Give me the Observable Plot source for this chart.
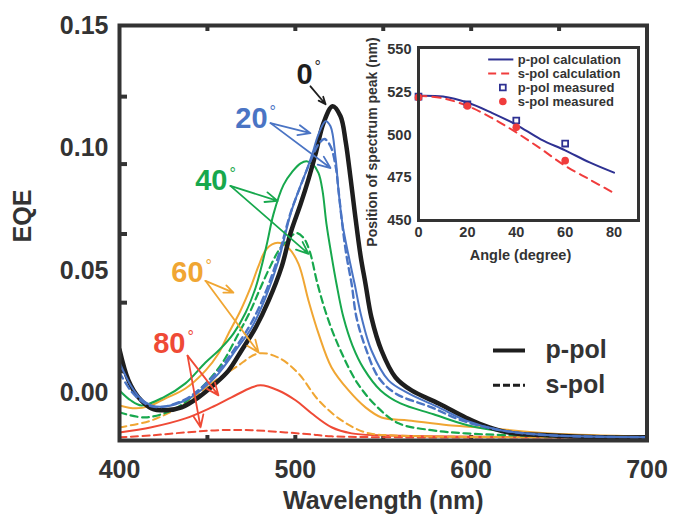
<!DOCTYPE html>
<html>
<head>
<meta charset="utf-8">
<script src="https://cdn.jsdelivr.net/npm/d3@7"></script>
<script src="https://cdn.jsdelivr.net/npm/@observablehq/plot@0.6"></script>
<style>
  html, body { margin: 0; padding: 0; background: white; }
  #wrap { position: relative; width: 678px; height: 518px; }
  #inset { position: absolute; left: 350px; top: 30px; }
</style>
</head>
<body>
<div id="wrap"><div id="main"></div><div id="inset"></div></div>
<script>
// ---------- main chart data: [wavelength (nm), EQE] ----------
const p0 = [[400,0.0179],[405.1,0.0053],[410.8,-0.0016],[418.2,-0.0061],[426.2,-0.0069],[435.3,-0.0057],[444.9,-0.0016],[454.6,0.0041],[462.0,0.0093],[469.4,0.0175],[477.4,0.0268],[484.8,0.0378],[492.2,0.0516],[497.3,0.0654],[503.0,0.0772],[507.5,0.0874],[511.5,0.0976],[516.0,0.1102],[521.2,0.1171],[525.7,0.1130],[528.6,0.1028],[531.4,0.0878],[533.7,0.0744],[537.1,0.0561],[539.9,0.0447],[543.3,0.0309],[549.0,0.0175],[557.0,0.0065],[566.1,0.0012],[581.5,-0.0041],[596.8,-0.0098],[604.2,-0.0122],[620.7,-0.0159],[643.5,-0.0171],[673.6,-0.0179],[700,-0.0179]];
const p20 = [[400,0.0126],[406.3,0.0033],[411.9,-0.0020],[418.2,-0.0049],[426.2,-0.0053],[437.5,-0.0028],[446.1,0.0012],[456.3,0.0081],[466.0,0.0175],[475.1,0.0268],[483.0,0.0390],[490.4,0.0541],[497.3,0.0732],[501.8,0.0825],[506.9,0.0919],[509.8,0.0980],[513.2,0.1057],[517.2,0.1110],[520.0,0.1089],[522.9,0.0959],[524.6,0.0825],[526.8,0.0691],[530.3,0.0561],[533.7,0.0447],[537.7,0.0309],[543.3,0.0175],[553.0,0.0053],[564.4,0.0000],[581.5,-0.0057],[596.8,-0.0110],[616.7,-0.0150],[645.2,-0.0171],[700,-0.0179]];
const s20 = [[400,0.0085],[406.3,0.0012],[411.9,-0.0028],[418.2,-0.0053],[426.2,-0.0053],[437.5,-0.0024],[446.1,0.0020],[456.3,0.0093],[466.0,0.0187],[475.1,0.0289],[483.0,0.0411],[490.4,0.0561],[497.3,0.0736],[503.0,0.0846],[508.6,0.0947],[513.2,0.1016],[516.6,0.1037],[520.0,0.1008],[522.9,0.0927],[524.6,0.0825],[526.8,0.0683],[529.1,0.0561],[532.0,0.0447],[534.8,0.0309],[539.9,0.0187],[547.3,0.0065],[557.0,0.0000],[577.5,-0.0057],[594.5,-0.0110],[616.7,-0.0150],[645.2,-0.0171],[700,-0.0179]];
const p40 = [[400,0.0012],[406.3,-0.0028],[412.5,-0.0049],[425.0,-0.0016],[437.5,0.0041],[448.9,0.0126],[457.5,0.0183],[464.8,0.0244],[471.7,0.0329],[477.4,0.0431],[481.3,0.0533],[484.2,0.0622],[487.6,0.0732],[493.3,0.0850],[498.4,0.0905],[503.0,0.0938],[506.4,0.0947],[509.8,0.0935],[513.2,0.0898],[515.5,0.0825],[517.7,0.0691],[520.6,0.0561],[523.4,0.0447],[527.4,0.0309],[532.5,0.0195],[538.8,0.0102],[548.5,0.0012],[559.8,-0.0041],[578.6,-0.0085],[598.0,-0.0130],[622.4,-0.0159],[645.2,-0.0171],[700,-0.0179]];
const s40 = [[400,-0.0077],[414.8,-0.0098],[431.9,-0.0061],[446.1,0.0020],[457.5,0.0114],[467.7,0.0244],[474.5,0.0337],[480.2,0.0431],[485.9,0.0520],[490.4,0.0581],[495.0,0.0622],[500.7,0.0654],[504.7,0.0634],[508.1,0.0581],[512.6,0.0447],[518.3,0.0309],[525.7,0.0175],[535.4,0.0041],[546.8,-0.0057],[558.7,-0.0122],[577.5,-0.0150],[596.8,-0.0163],[645.2,-0.0175],[700,-0.0179]];
const p60 = [[400,-0.0049],[409.1,-0.0061],[416.5,-0.0053],[426.2,-0.0020],[437.5,0.0020],[448.9,0.0093],[456.3,0.0163],[462.0,0.0244],[468.8,0.0337],[474.5,0.0431],[479.1,0.0520],[483.6,0.0589],[489.9,0.0614],[496.1,0.0593],[501.8,0.0528],[507.5,0.0378],[513.2,0.0244],[520.6,0.0106],[530.3,0.0012],[539.9,-0.0057],[549.0,-0.0098],[564.4,-0.0110],[587.1,-0.0130],[604.2,-0.0138],[645.2,-0.0163],[700,-0.0175]];
const s60 = [[400,-0.0138],[418.2,-0.0110],[437.5,-0.0041],[452.3,0.0041],[466.0,0.0106],[479.1,0.0163],[490.4,0.0146],[501.8,0.0081],[513.2,-0.0028],[526.3,-0.0110],[539.9,-0.0159],[554.7,-0.0171],[700,-0.0179]];
const p80 = [[400,-0.0159],[418.2,-0.0138],[437.5,-0.0102],[452.3,-0.0057],[463.7,-0.0016],[475.1,0.0024],[480.2,0.0033],[490.4,0.0012],[500.1,-0.0028],[509.2,-0.0081],[520.6,-0.0138],[532.0,-0.0163],[549.0,-0.0171],[700,-0.0179]];
const s80 = [[400,-0.0179],[418.2,-0.0171],[437.5,-0.0159],[456.3,-0.0150],[475.1,-0.0150],[494.4,-0.0159],[508.6,-0.0167],[520.6,-0.0175],[700,-0.0179]];

const xTickLabels = [400, 500, 600, 700];
const xTickMarks = [450, 500, 550, 600, 650];
const yTickLabels = [0.00, 0.05, 0.10, 0.15];
const yTickMarks = [0.121, 0.0935, 0.065, 0.037, 0.009];

// angle annotations (data coordinates): label anchor + arrow tail + arrow heads
const angleLabels = ["0", "20", "40", "60", "80"];
const angleColors = ["#1e1e1e", "#4a74c4", "#17a84d", "#f0a633", "#ef4a36"];
const labelX = [509.8, 484.2, 461.4, 447.8, 437.5];
const labelY = [0.1301, 0.1118, 0.0866, 0.0492, 0.0203];
const arrowTails = [[508.6,0.1252],[485.9,0.1102],[463.1,0.0846],[448.9,0.0459],[438.7,0.0154]];
const arrowHeads = [
  [[517.2,0.1179]],
  [[508.6,0.1061],[520.0,0.0919]],
  [[489.9,0.0785],[507.5,0.0569]],
  [[464.8,0.0411],[479.1,0.0167]],
  [[456.3,-0.0008],[446.1,-0.0138]]
];

// polarization legend
const legendNames = ["p-pol", "s-pol"];
const legendY = [0.0175, 0.0033];
const legendX = [612.7, 630.9, 642.3];

// ---------- inset data ----------
const angleCalc = [0, 10, 20, 30, 40, 50, 60, 70, 80];
const pCalc = [523, 522.5, 519, 513, 506, 497.5, 491, 484, 478];
const sCalc = [523, 521.5, 517, 510, 501.5, 492, 482, 474, 466];
const angleMeas = [0, 20, 40, 60];
const pMeas = [522.5, 518, 508.5, 495];
const sMeas = [522, 517, 504.5, 485];
const insetXTicks = [0, 20, 40, 60, 80];
const insetYTicks = [450, 475, 500, 525, 550];
const insetLegend = ["p-pol calculation", "s-pol calculation", "p-pol measured", "s-pol measured"];
const insetLegendY = [544.2, 536.0, 527.8, 519.6];
const insetLegendX = [28.7, 39.0, 34.5, 40.6];

// ---------- build main chart ----------
const FONT = "Liberation Sans, Arial, Helvetica, sans-serif";
const ink = "#333";
const X = d => d[0], Y = d => d[1];
const solid = (data, color, w) => Plot.line(data, {x: X, y: Y, stroke: color, strokeWidth: w, curve: "catmull-rom", clip: true});
const dashed = (data, color, w) => Plot.line(data, {x: X, y: Y, stroke: color, strokeWidth: w, strokeDasharray: "7,4.5", curve: "catmull-rom", clip: true});

const arrowRows = [];
arrowHeads.forEach((heads, i) => heads.forEach(h => arrowRows.push({x1: arrowTails[i][0], y1: arrowTails[i][1], x2: h[0], y2: h[1], c: angleColors[i]})));
const labelRows = angleLabels.map((t, i) => ({t, x: labelX[i], y: labelY[i], c: angleColors[i]}));

const main = Plot.plot({
  width: 678, height: 518,
  marginLeft: 119, marginRight: 31.5, marginTop: 25, marginBottom: 78,
  x: {domain: [400, 700]},
  y: {domain: [-0.0192, 0.15]},
  style: {fontFamily: FONT, background: "white", color: ink, overflow: "visible"},
  marks: [
    Plot.axisX({ticks: xTickLabels, tickSize: 0, tickPadding: 20, fontSize: 25, fontWeight: "bold", label: null, anchor: "bottom"}),
    Plot.axisY({ticks: yTickLabels, tickFormat: d3.format(".2f"), tickSize: 0, tickPadding: 11, fontSize: 25, fontWeight: "bold", label: null, anchor: "left"}),
    Plot.axisX({ticks: xTickMarks, tickSize: 5, dy: -5, text: null, label: null, anchor: "bottom", strokeWidth: 4, stroke: ink}),
    Plot.axisX({ticks: xTickMarks, tickSize: 5, dy: 5, text: null, label: null, anchor: "top", strokeWidth: 4, stroke: ink}),
    Plot.axisY({ticks: yTickMarks, tickSize: 8, dx: 8, text: null, label: null, anchor: "left", strokeWidth: 4, stroke: ink}),
    Plot.text(["EQE"], {frameAnchor: "left", textAnchor: "middle", lineAnchor: "middle", dx: -97, dy: -17, rotate: -90, fontSize: 25, fontWeight: "bold", fill: ink}),
    Plot.text(["Wavelength (nm)"], {frameAnchor: "bottom", textAnchor: "middle", lineAnchor: "middle", dy: 60, fontSize: 25, fontWeight: "bold", fill: ink}),
    // curves
    dashed(s80, angleColors[4], 2),
    solid(p80, angleColors[4], 2),
    dashed(s60, angleColors[3], 2),
    solid(p60, angleColors[3], 2),
    dashed(s40, angleColors[2], 2.2),
    solid(p40, angleColors[2], 2),
    solid(p0, "#1e1e1e", 4.5),
    dashed(s20, angleColors[1], 2.4),
    solid(p20, angleColors[1], 2),
    Plot.frame({stroke: ink, strokeWidth: 4}),
    // annotations
    Plot.arrow(arrowRows, {x1: "x1", y1: "y1", x2: "x2", y2: "y2", stroke: "c", strokeWidth: 1.8, headLength: 11, headAngle: 45}),
    Plot.text(labelRows, {x: "x", y: "y", text: "t", fill: "c", textAnchor: "end", fontSize: 29, fontWeight: "bold"}),
    Plot.text(labelRows, {x: "x", y: "y", text: () => "°", fill: "c", textAnchor: "start", dx: 2, dy: -7, fontSize: 16}),
    // legend
    Plot.ruleY([legendY[0]], {x1: legendX[0], x2: legendX[1], stroke: "#1e1e1e", strokeWidth: 4}),
    Plot.ruleY([legendY[1]], {x1: legendX[0], x2: legendX[1], stroke: "#1e1e1e", strokeWidth: 3, strokeDasharray: "7,3"}),
    Plot.text(legendNames, {x: legendX[2], y: (d, i) => legendY[i], textAnchor: "start", fontSize: 25, fontWeight: "bold", fill: ink})
  ]
});
document.getElementById("main").append(main);

// ---------- inset ----------
const navy = "#2e3192", red = "#f03c3c";
const calcP = angleCalc.map((a, i) => ({a, v: pCalc[i]}));
const calcS = angleCalc.map((a, i) => ({a, v: sCalc[i]}));
const measP = angleMeas.map((a, i) => ({a, v: pMeas[i]}));
const measS = angleMeas.map((a, i) => ({a, v: sMeas[i]}));

const inset = Plot.plot({
  width: 295, height: 240,
  marginLeft: 68, marginRight: 7, marginTop: 17, marginBottom: 50,
  x: {domain: [0, 90]},
  y: {domain: [450, 551.2]},
  style: {fontFamily: FONT, background: "transparent", color: ink, overflow: "visible"},
  marks: [
    Plot.axisX({ticks: insetXTicks, tickSize: 0, tickPadding: 6, fontSize: 14.5, fontWeight: "bold", label: null}),
    Plot.axisY({ticks: insetYTicks, tickSize: 0, tickPadding: 7, fontSize: 14.5, fontWeight: "bold", label: null}),
    Plot.text(["Angle (degree)"], {frameAnchor: "bottom", textAnchor: "middle", lineAnchor: "middle", dx: -8, dy: 35, fontSize: 14.5, fontWeight: "bold", fill: ink}),
    Plot.text(["Position of spectrum peak (nm)"], {frameAnchor: "left", textAnchor: "middle", lineAnchor: "middle", dx: -46, dy: 8, rotate: -90, fontSize: 14, fontWeight: "bold", fill: ink}),
    Plot.line(calcP, {x: "a", y: "v", stroke: navy, strokeWidth: 2, curve: "catmull-rom"}),
    Plot.line(calcS, {x: "a", y: "v", stroke: red, strokeWidth: 2, strokeDasharray: "8,6", curve: "catmull-rom"}),
    Plot.dot(measP, {x: "a", y: "v", symbol: "square", r: 3.3, stroke: navy, strokeWidth: 1.8, fill: "none"}),
    Plot.dot(measS, {x: "a", y: "v", r: 3.8, fill: red, stroke: "none"}),
    Plot.frame({stroke: ink, strokeWidth: 3}),
    // legend
    Plot.ruleY([insetLegendY[0]], {x1: insetLegendX[0], x2: insetLegendX[1], stroke: navy, strokeWidth: 2}),
    Plot.ruleY([insetLegendY[1]], {x1: insetLegendX[0], x2: insetLegendX[1], stroke: red, strokeWidth: 2, strokeDasharray: "8,5"}),
    Plot.dot([insetLegendY[2]], {x: insetLegendX[2], y: d => d, symbol: "square", r: 3.3, stroke: navy, strokeWidth: 1.8, fill: "none"}),
    Plot.dot([insetLegendY[3]], {x: insetLegendX[2], y: d => d, r: 3.8, fill: red}),
    Plot.text(insetLegend, {x: insetLegendX[3], y: (d, i) => insetLegendY[i], textAnchor: "start", fontSize: 13, fontWeight: "bold", fill: ink})
  ]
});
document.getElementById("inset").append(inset);
</script>
</body>
</html>
